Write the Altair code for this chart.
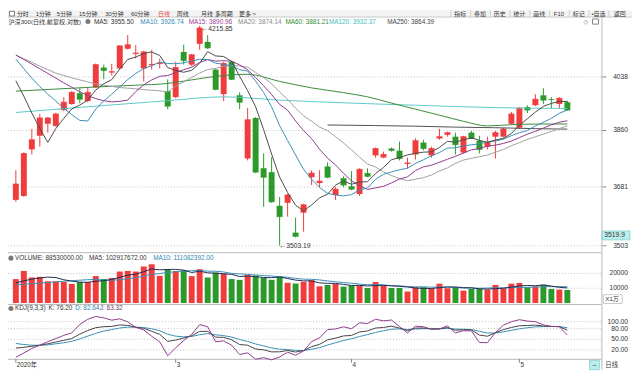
import altair as alt
import pandas as pd
import numpy as np

# ---------------- data ----------------
opens = [3641, 3653, 3799, 3843, 3882, 3875, 3927, 3947, 3983, 3957,
         4003, 4070, 4053, 4067, 4135, 4117, 4067, 4078, 4082, 3990,
         3970, 4124, 4080, 4152, 4159, 4063, 3980, 4090, 3976, 3770,
         3901, 3739, 3727, 3623, 3632, 3542, 3602, 3711, 3693, 3745,
         3656, 3708, 3683, 3659, 3724, 3780, 3773, 3802, 3795, 3753,
         3783, 3821, 3780, 3834, 3846, 3840, 3789, 3853, 3827, 3808,
         3840, 3840, 3882, 3869, 3937, 3943, 3976, 3963, 3947, 3953]
highs = [3733, 3790, 3865, 3914, 3904, 3918, 3970, 3990, 4000, 4003,
         4084, 4080, 4083, 4148, 4183, 4148, 4128, 4131, 4100, 4030,
         4090, 4149, 4117, 4215.85, 4183, 4066, 4090, 4093, 3986, 3934,
         3904, 3786, 3774, 3650, 3660, 3587, 3629, 3733, 3733, 3758,
         3681, 3714, 3730, 3739, 3739, 3805, 3792, 3805, 3824, 3773,
         3834, 3830, 3808, 3865, 3856, 3853, 3843, 3859, 3843, 3840,
         3859, 3869, 3921, 3937, 3943, 3980, 4000, 3970, 3970, 3957]
lows = [3635, 3650, 3783, 3808, 3853, 3872, 3923, 3944, 3950, 3953,
        4000, 4030, 4043, 4064, 4132, 4101, 4023, 4063, 4067, 3930,
        3966, 4080, 4074, 4131, 4134, 3993, 3957, 4027, 3930, 3764,
        3724, 3620, 3632, 3503.19, 3590, 3528, 3545, 3687, 3680, 3708,
        3641, 3680, 3671, 3653, 3711, 3773, 3771, 3792, 3764, 3739,
        3767, 3796, 3773, 3830, 3840, 3783, 3786, 3832, 3786, 3799,
        3770, 3837, 3878, 3865, 3917, 3940, 3947, 3933, 3933, 3925]
closes = [3690, 3786, 3830, 3901, 3901, 3914, 3953, 3986, 3963, 3986,
          4080, 4060, 4056, 4145, 4149, 4120, 4124, 4081, 4085, 3940,
          4070, 4094, 4114, 4208, 4138, 3996, 4084, 4030, 3953, 3895,
          3727, 3711, 3635, 3590, 3656, 3531, 3626, 3724, 3699, 3711,
          3674, 3687, 3674, 3736, 3714, 3802, 3783, 3796, 3770, 3756,
          3827, 3802, 3802, 3840, 3853, 3814, 3840, 3834, 3799, 3821,
          3853, 3865, 3914, 3933, 3927, 3963, 3960, 3962, 3966, 3927]
volumes = [16200, 21700, 17300, 17700, 14700, 14700, 14200, 12900, 14200, 14200,
           18200, 16200, 16900, 21300, 21700, 21300, 24700, 26200, 18400, 22900,
           21700, 22000, 18200, 22900, 17300, 20600, 19900, 16200, 15700, 18900,
           18600, 16900, 15700, 18000, 13700, 13200, 14400, 15500, 11300, 12200,
           12900, 11100, 11800, 11800, 10200, 14200, 11800, 10200, 10200, 7800,
           10700, 10700, 9800, 13100, 10000, 10700, 8400, 9500, 9500, 9100,
           12200, 9800, 13100, 13600, 10700, 11300, 12400, 9500, 9100, 8853]

# moving-average values before each window is complete
ma5_head = [4025, 3973, 3917, 3867]
ma10_head = [4099, 4066, 4034, 4005, 3980, 3957, 3933, 3912, 3893]
ma15_head = [4113, 4098, 4082, 4066, 4050, 4034, 4018, 4003, 3988, 3975,
             3965, 3958, 3954, 3956]
ma20_head = [4113, 4100, 4088, 4075, 4063, 4051, 4043, 4035, 4028, 4021,
             4014, 4010, 4006, 4002, 4000, 3998, 3995, 3993, 3991]
ma60_idx = [0, 5, 10, 15, 19, 22, 25, 29, 33, 37, 41, 44, 47, 50, 53, 56, 59, 62, 65, 69]
ma60_val = [3990, 3997, 4004, 4010, 4016, 4028, 4040, 4047, 4023, 4001,
            3985, 3971, 3950, 3930, 3910, 3890, 3875, 3879, 3881, 3881.21]
ma120_idx = [0, 10, 19, 26, 33, 40, 50, 60, 69]
ma120_val = [3919, 3940, 3958, 3971, 3960, 3952, 3943, 3935, 3932.37]
ma250_idx = [39, 45, 50, 55, 60, 65, 69]
ma250_val = [3878, 3876, 3874, 3871, 3869, 3866, 3864.39]
vma5_head = [13600, 15000, 16200, 17000]
vma10_head = [12300, 12700, 13100, 13500, 13900, 14300, 14700, 15100, 15450]
k_head = [25, 27, 30, 33, 37, 42, 47, 52]
d_head = [38, 35, 33, 33, 34, 37, 40, 44]

month_idx = [0, 20, 42, 63]
month_labels = ["2020年", "3", "4", "5"]
price_ticks = [3503, 3681, 3860, 4038]
vol_ticks = [10000, 20000]
kdj_ticks = [20, 50, 80, 100]

# ---------------- derived series ----------------
N = len(closes)
idx = list(range(N))


def sma(arr, n, head):
    a = np.array(arr, dtype=float)
    out = list(head)
    for k in range(n - 1, len(a)):
        out.append(float(a[k - n + 1:k + 1].mean()))
    return out


ma5 = sma(closes, 5, ma5_head)
ma10 = sma(closes, 10, ma10_head)
ma15 = sma(closes, 15, ma15_head)
ma20 = sma(closes, 20, ma20_head)
vma5 = sma(volumes, 5, vma5_head)
vma10 = sma(volumes, 10, vma10_head)

K = list(k_head)
D = list(d_head)
for t in range(len(k_head), N):
    lo = min(lows[t - 8:t + 1])
    hi = max(highs[t - 8:t + 1])
    rsv = (closes[t] - lo) / (hi - lo) * 100
    K.append((2 * K[-1] + rsv) / 3)
    D.append((2 * D[-1] + K[-1]) / 3)
J = [3 * k - 2 * d for k, d in zip(K, D)]

dirs = ["up" if c >= o else "down" for o, c in zip(opens, closes)]
candles = pd.DataFrame({"i": idx, "o": opens, "h": highs, "l": lows,
                        "c": closes, "v": volumes, "dir": dirs})

# ---------------- styling ----------------
RED = "#f03c3c"
GREEN = "#2b9a2b"
C_MA5 = "#4a4a4a"
C_MA10 = "#3a8fb7"
C_MA15 = "#8e3b8e"
C_MA20 = "#a0a0a0"
C_MA60 = "#3a8a3a"
C_MA120 = "#5cc8c8"
C_MA250 = "#505050"
CJK = "Liberation Sans, Noto Sans CJK SC"
LAT = "Liberation Sans"
GRID = "#c4c4c4"

OFF = 8  # page margin: chart coordinate = screen coordinate - 8


def S(v):
    return v - OFF


xscale = alt.Scale(domain=[-0.3644, 72.765], range=[S(8), S(610)], nice=False, zero=False)
pscale = alt.Scale(type="log", domain=[3484.1, 4221.6], range=[S(253), S(22)], nice=False, zero=False)
vscale = alt.Scale(domain=[0, 33700], range=[S(304.5), S(254)], nice=False, zero=False)
kscale = alt.Scale(domain=[-5.6, 148.5], range=[S(361), S(306)], nice=False, zero=False)

X = alt.X("i:Q", scale=xscale, axis=None)
COL = alt.Color("dir:N", scale=alt.Scale(domain=["up", "down"], range=[RED, GREEN]), legend=None)
one = pd.DataFrame({"a": [0]})


def txt(s, x, y, color="#333333", size=6.2, align="left", font=CJK):
    return alt.Chart(one).mark_text(text=s, align=align, baseline="middle", fontSize=size,
                                    font=font, color=color).encode(
        x=alt.value(S(x)), y=alt.value(S(y)))


def hline(y, x0, x1, color="#c8c8c8", w=1):
    return alt.Chart(one).mark_rule(color=color, strokeWidth=w).encode(
        x=alt.value(S(x0)), x2=alt.value(S(x1)), y=alt.value(S(y)))


def vline(x, y0, y1, color="#c8c8c8", w=1):
    return alt.Chart(one).mark_rule(color=color, strokeWidth=w).encode(
        x=alt.value(S(x)), y=alt.value(S(y0)), y2=alt.value(S(y1)))


def box(x0, x1, y0, y1, fill, stroke, w=0.8):
    return alt.Chart(one).mark_rect(fill=fill, stroke=stroke, strokeWidth=w).encode(
        x=alt.value(S(x0)), x2=alt.value(S(x1)), y=alt.value(S(y0)), y2=alt.value(S(y1)))


def dot(x, y):
    return alt.Chart(one).mark_point(shape="circle", filled=True, size=26, color="#7a7a7a",
                                     opacity=1).encode(x=alt.value(S(x)), y=alt.value(S(y)))


def line_layer(ix, vals, color, scale, interp="linear"):
    d = pd.DataFrame({"i": ix, "val": vals})
    return alt.Chart(d).mark_line(color=color, strokeWidth=1, interpolate=interp).encode(
        x=X, y=alt.Y("val:Q", scale=scale, axis=None))


# ---------------- price panel ----------------
pt = pd.DataFrame({"t": price_ticks, "lab": [str(t) for t in price_ticks]})
p_grid = alt.Chart(pt).mark_rule(color=GRID, strokeDash=[1, 2]).encode(
    y=alt.Y("t:Q", scale=pscale, axis=None), x=alt.value(S(8)), x2=alt.value(S(609)))
p_tick = alt.Chart(pt).mark_rule(color="#888888").encode(
    y=alt.Y("t:Q", scale=pscale, axis=None), x=alt.value(S(610)), x2=alt.value(S(614)))
p_lab = alt.Chart(pt).mark_text(align="right", baseline="middle", fontSize=6.8, font=LAT,
                                color="#333333").encode(
    y=alt.Y("t:Q", scale=pscale, axis=None), x=alt.value(S(636)), text="lab:N")

wick = alt.Chart(candles).mark_rule(strokeWidth=1).encode(
    x=X, y=alt.Y("h:Q", scale=pscale, axis=None), y2="l:Q", color=COL)
body = alt.Chart(candles).mark_bar(size=6).encode(
    x=X, y=alt.Y("o:Q", scale=pscale, axis=None), y2="c:Q", color=COL)
ctick = alt.Chart(candles).mark_tick(orient="horizontal", size=6, thickness=1).encode(
    x=X, y=alt.Y("c:Q", scale=pscale, axis=None), color=COL)

imax = int(np.argmax(highs))
imin = int(np.argmin(lows))
ann_hi = pd.DataFrame({"i": [imax], "p": [highs[imax]], "t": ["←%.2f" % highs[imax]]})
ann_lo = pd.DataFrame({"i": [imin], "p": [lows[imin]], "t": ["←%.2f" % lows[imin]]})
a_hi = alt.Chart(ann_hi).mark_text(align="left", baseline="middle", dx=2, dy=3, fontSize=6.8,
                                   font=LAT, color="#333333").encode(
    x=X, y=alt.Y("p:Q", scale=pscale, axis=None), text="t:N")
a_lo = alt.Chart(ann_lo).mark_text(align="left", baseline="middle", dx=0, dy=0, fontSize=6.8,
                                   font=LAT, color="#333333").encode(
    x=X, y=alt.Y("p:Q", scale=pscale, axis=None), text="t:N")

price = alt.layer(
    p_grid, p_tick, p_lab,
    wick, body, ctick,
    line_layer(ma250_idx, ma250_val, C_MA250, pscale, "monotone"),
    line_layer(ma120_idx, ma120_val, C_MA120, pscale, "monotone"),
    line_layer(ma60_idx, ma60_val, C_MA60, pscale, "monotone"),
    line_layer(idx, ma20, C_MA20, pscale),
    line_layer(idx, ma15, C_MA15, pscale),
    line_layer(idx, ma10, C_MA10, pscale),
    line_layer(idx, ma5, C_MA5, pscale),
    a_hi, a_lo,
)

# ---------------- volume panel ----------------
vt = pd.DataFrame({"t": vol_ticks, "lab": [str(t) for t in vol_ticks]})
v_grid = alt.Chart(vt).mark_rule(color=GRID, strokeDash=[1, 2]).encode(
    y=alt.Y("t:Q", scale=vscale, axis=None), x=alt.value(S(8)), x2=alt.value(S(609)))
v_lab = alt.Chart(vt).mark_text(align="right", baseline="middle", fontSize=6.8, font=LAT,
                                color="#333333").encode(
    y=alt.Y("t:Q", scale=vscale, axis=None), x=alt.value(S(636)), text="lab:N")
vbar = alt.Chart(candles).mark_bar(size=6).encode(
    x=X, y=alt.Y("v:Q", scale=vscale, axis=None), color=COL)
volume = alt.layer(
    v_grid, v_lab, vbar,
    line_layer(idx, vma10, "#3a8fb7", vscale),
    line_layer(idx, vma5, "#1e2d55", vscale),
)

# ---------------- KDJ panel ----------------
kt = pd.DataFrame({"t": kdj_ticks, "lab": ["%.2f" % t for t in kdj_ticks]})
k_grid = alt.Chart(kt).mark_rule(color=GRID, strokeDash=[1, 2]).encode(
    y=alt.Y("t:Q", scale=kscale, axis=None), x=alt.value(S(8)), x2=alt.value(S(609)))
k_lab = alt.Chart(kt).mark_text(align="right", baseline="middle", fontSize=6.8, font=LAT,
                                color="#333333").encode(
    y=alt.Y("t:Q", scale=kscale, axis=None), x=alt.value(S(636)), text="lab:N")
kdj = alt.layer(
    k_grid, k_lab,
    line_layer(idx, D, "#3a8fb7", kscale),
    line_layer(idx, K, "#444444", kscale),
    line_layer(idx, J, "#8e3b8e", kscale),
)

# ---------------- bottom date axis ----------------
mt = pd.DataFrame({"i": month_idx, "lab": month_labels})
m_tick = alt.Chart(mt).mark_rule(color="#888888").encode(
    x=X, y=alt.value(S(361)), y2=alt.value(S(365)))
m_lab = alt.Chart(mt).mark_text(align="left", baseline="middle", dx=1, fontSize=6.4, font=CJK,
                                color="#333333").encode(x=X, y=alt.value(S(367)), text="lab:N")

# ---------------- chrome: toolbar, headers, frames ----------------
back = [
    box(8, 640, 8, 14.8, "#f3f3f3", "#f3f3f3", 0),
    hline(14.8, 8, 640, "#c8c8c8"),
    hline(253.5, 8, 609, "#b8b8b8"),
    hline(306, 8, 609, "#b8b8b8"),
    hline(361.5, 8, 609, "#b8b8b8"),
    vline(609.5, 14.8, 372, "#b8b8b8"),
]

front = [box(9.5, 14.5, 9, 13.8, "#ffffff", "#555555")]
tools = [("分时", 17), ("1分钟", 36), ("5分钟", 57.5), ("15分钟", 80), ("30分钟", 106.5),
         ("60分钟", 132.5), ("日线", 160), ("周线", 179), ("月线", 203.5), ("多周期", 217.5),
         ("更多 >", 242)]
for s, x in tools:
    front.append(txt(s, x, 11.6, RED if s == "日线" else "#333333", 6.0))
for x in [456.5, 476.5, 496.5, 516.5, 536.5, 556.5, 576.5, 596.5, 616.5]:
    front.append(vline(x, 8, 14.8, "#cfcfcf"))
buttons = [("指标", 466), ("叠加", 486), ("历史", 506), ("统计", 526), ("画线", 546),
           ("F10", 566), ("标记", 586), ("•自选", 606), ("返回", 627.5)]
for s, x in buttons:
    front.append(txt(s, x, 11.6, "#333333", 6.0, "center"))

legend = [("MA5: 3955.50", 95, "#333333"), ("MA10: 3926.74", 142, "#2f88b5"),
          ("MA15: 3890.96", 191, "#9b3a9b"), ("MA20: 3874.14", 241, "#8a8a8a"),
          ("MA60: 3881.21", 289, "#2f8a2f"), ("MA120: 3932.37", 333, "#46bcbc"),
          ("MA250: 3864.39", 392, "#444444")]
front.append(txt("沪深300(日线,前复权,对数)", 8.5, 19.4, "#333333", 6.2))
front.append(dot(89, 19.4))
for s, x, c in legend:
    front.append(txt(s, x, 19.4, c, 6.5, font=LAT))
front.append(txt("◇", 593, 19.4, "#666666", 6.4, "center", font="DejaVu Sans"))
front.append(box(600, 606, 16.8, 22, "#ffffff", "#666666"))

# volume header
front.append(dot(11, 259))
front.append(txt("VOLUME: 88530000.00", 15, 259, "#333333", 6.5, font=LAT))
front.append(txt("MA5: 102917672.00", 90, 259, "#333333", 6.5, font=LAT))
front.append(txt("MA10: 111082392.00", 155, 259, "#2f88b5", 6.5, font=LAT))
front.append(box(611, 630, 296, 305, "#ffffff", "#bbbbbb"))
front.append(txt("X1万", 613, 300.5, "#333333", 6.2))

# KDJ header
front.append(dot(11, 310))
front.append(txt("KDJ(9,3,3)", 15, 310, "#333333", 6.5, font=LAT))
front.append(txt("K: 76.20", 49, 310, "#333333", 6.5, font=LAT))
front.append(txt("D: 82.64", 76, 310, "#2f88b5", 6.5, font=LAT))
front.append(txt("J: 63.32", 101, 310, "#6a3a6a", 6.5, font=LAT))

# right-side boxes
front.append(box(610, 638, 231.5, 240.5, "#bdeeee", "#7fd0d0"))
front.append(txt("3519.9", 612, 236, "#333333", 6.8, font=LAT))
front.append(box(597, 607, 362.5, 372, "#bdeeee", "#7fd0d0"))
front.append(txt("--", 602, 367, "#333333", 6.4, "center", font=LAT))
front.append(txt("日线", 613, 367, "#333333", 6.4))

chart = alt.layer(
    *back,
    price, volume, kdj, m_tick, m_lab,
    *front,
).resolve_scale(y="independent").properties(
    width=632, height=364,
    autosize=alt.AutoSizeParams(type="none"),
    padding=0,
    background="#ffffff",
).configure_view(stroke=None)

chart.save("out.html", embed_options={"renderer": "svg", "actions": False})
